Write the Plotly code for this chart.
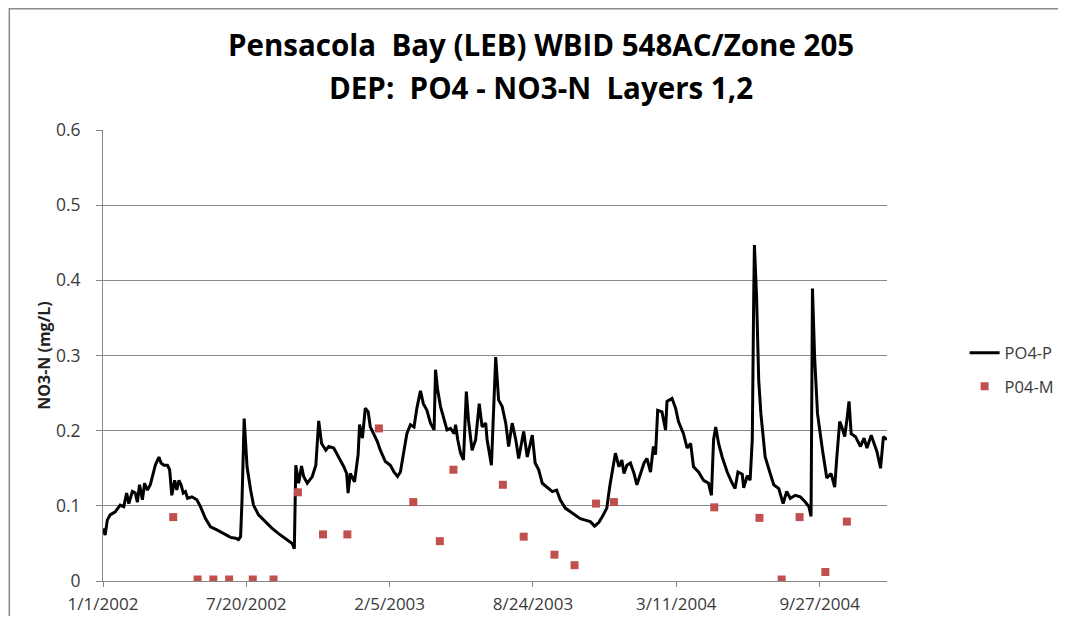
import pandas as pd
import plotly.graph_objects as go

START = pd.Timestamp("2002-01-01")

# Predicted PO4 (line): days since 1/1/2002 and mg/L values
pred_days = [0, 3, 6, 10, 17, 24, 29, 33, 36, 41, 45, 48, 51, 55, 58, 62, 66, 70, 73, 78,
             81, 85, 90, 93, 96, 100, 103, 106, 109, 112, 115, 118, 124, 131, 136, 143, 150, 159, 169, 178,
             185, 189, 192, 194, 197, 201, 206, 210, 217, 224, 236, 245, 257, 264, 267, 269, 273, 277, 280, 285,
             292, 297, 301, 305, 311, 315, 322, 329, 336, 340, 342, 345, 351, 356, 358, 362, 366, 370, 373, 383,
             387, 394, 401, 406, 411, 415, 420, 424, 429, 434, 438, 443, 447, 452, 457, 462, 464, 467, 471, 476,
             480, 485, 490, 492, 495, 499, 503, 507, 510, 515, 520, 525, 529, 534, 536, 542, 548, 552, 557, 562,
             566, 571, 576, 580, 587, 592, 599, 603, 608, 613, 620, 627, 633, 638, 645, 652, 659, 666, 673, 680,
             686, 692, 697, 703, 707, 710, 715, 720, 724, 727, 731, 736, 741, 745, 750, 755, 759, 764, 768, 771,
             774, 780, 785, 787, 794, 799, 803, 810, 815, 820, 824, 831, 838, 845, 849, 852, 855, 859, 864, 871,
             878, 882, 886, 892, 894, 899, 903, 906, 908, 909, 912, 915, 918, 924, 931, 936, 943, 949, 954, 959,
             966, 973, 980, 985, 988, 990, 993, 997, 1004, 1010, 1016, 1021, 1024, 1028, 1031, 1035, 1038, 1041, 1044, 1050,
             1057, 1062, 1066, 1072, 1076, 1080, 1085, 1089, 1094]
pred_vals = [0.070, 0.061, 0.081, 0.088, 0.092, 0.101, 0.099, 0.117, 0.103, 0.119, 0.117, 0.105, 0.128, 0.108, 0.130, 0.121, 0.128, 0.143, 0.154, 0.165,
             0.157, 0.154, 0.154, 0.148, 0.114, 0.134, 0.121, 0.134, 0.128, 0.117, 0.119, 0.110, 0.112, 0.108, 0.099, 0.083, 0.072, 0.068, 0.063, 0.058,
             0.057, 0.055, 0.059, 0.108, 0.216, 0.152, 0.121, 0.101, 0.088, 0.081, 0.070, 0.063, 0.055, 0.050, 0.043, 0.154, 0.130, 0.153, 0.139, 0.130,
             0.139, 0.154, 0.213, 0.183, 0.174, 0.179, 0.177, 0.165, 0.152, 0.143, 0.117, 0.143, 0.132, 0.168, 0.208, 0.190, 0.230, 0.225, 0.205, 0.185,
             0.174, 0.159, 0.154, 0.145, 0.139, 0.145, 0.174, 0.196, 0.208, 0.205, 0.230, 0.253, 0.236, 0.227, 0.210, 0.201, 0.281, 0.254, 0.232, 0.214,
             0.201, 0.203, 0.196, 0.208, 0.188, 0.170, 0.161, 0.252, 0.214, 0.174, 0.188, 0.236, 0.205, 0.210, 0.188, 0.154, 0.298, 0.241, 0.232, 0.210,
             0.179, 0.210, 0.188, 0.163, 0.199, 0.165, 0.194, 0.157, 0.148, 0.130, 0.125, 0.119, 0.121, 0.108, 0.097, 0.092, 0.088, 0.083, 0.081, 0.079,
             0.073, 0.078, 0.086, 0.097, 0.125, 0.143, 0.170, 0.152, 0.161, 0.143, 0.154, 0.157, 0.143, 0.128, 0.143, 0.157, 0.163, 0.145, 0.179, 0.168,
             0.227, 0.225, 0.201, 0.239, 0.243, 0.230, 0.212, 0.196, 0.177, 0.183, 0.152, 0.145, 0.134, 0.130, 0.114, 0.188, 0.205, 0.183, 0.165, 0.145,
             0.130, 0.123, 0.145, 0.142, 0.124, 0.140, 0.134, 0.188, 0.378, 0.447, 0.378, 0.267, 0.223, 0.165, 0.143, 0.128, 0.123, 0.103, 0.119, 0.110,
             0.114, 0.112, 0.105, 0.099, 0.086, 0.389, 0.298, 0.223, 0.174, 0.137, 0.143, 0.125, 0.165, 0.212, 0.205, 0.192, 0.214, 0.239, 0.196, 0.192,
             0.179, 0.190, 0.177, 0.194, 0.183, 0.172, 0.150, 0.192, 0.188]

# Measured PO4 (markers)
meas_days = [98, 132, 154, 176, 209, 238, 272, 307, 341, 385, 433, 470, 489,
             558, 587, 630, 658, 688, 713, 853, 916, 947, 972, 1008, 1038]
meas_vals = [0.085, 0.002, 0.002, 0.002, 0.002, 0.002, 0.118, 0.062, 0.062, 0.203, 0.105, 0.053, 0.148,
             0.128, 0.059, 0.035, 0.021, 0.103, 0.105, 0.098, 0.084, 0.002, 0.085, 0.012, 0.079]

tick_dates = ["2002-01-01", "2002-07-20", "2003-02-05", "2003-08-24", "2004-03-11", "2004-09-27"]
tick_labels = ["1/1/2002", "7/20/2002", "2/5/2003", "8/24/2003", "3/11/2004", "9/27/2004"]

title_line1 = "Pensacola\u00a0 Bay (LEB) WBID 548AC/Zone 205"
title_line2 = "DEP:\u00a0 PO4 - NO3-N\u00a0 Layers 1,2"

pred_x = START + pd.to_timedelta(pred_days, unit="D")
meas_x = START + pd.to_timedelta(meas_days, unit="D")

FONT = "Open Sans"
TXT = "#3a3a3a"
GRID = "#878787"

fig = go.Figure()
fig.add_trace(go.Scatter(x=pred_x, y=pred_vals, mode="lines", name="PO4-P",
                         line=dict(color="black", width=3), legendgroup="a"))
fig.add_trace(go.Scatter(x=meas_x, y=meas_vals, mode="markers", name="P04-M",
                         marker=dict(symbol="square", size=8, color="#C0504D"), legendgroup="b"))

fig.update_layout(
    width=1050, height=608,
    margin=dict(l=94.5, r=171, t=122, b=35, autoexpand=False),
    paper_bgcolor="white", plot_bgcolor="white",
    font=dict(family=FONT, color=TXT),
    showlegend=True,
    legend=dict(x=1.099, xanchor="left", y=0.469, yanchor="middle",
                font=dict(family=FONT, size=16.5, color=TXT),
                traceorder="grouped", tracegroupgap=9, bgcolor="rgba(0,0,0,0)"),
    xaxis=dict(type="date", range=["2002-01-01", "2004-12-30"],
               tickvals=tick_dates, ticktext=tick_labels, automargin=False,
               showgrid=False, showline=True, linecolor=GRID, linewidth=1,
               ticks="outside", ticklen=5, tickcolor=GRID,
               tickfont=dict(family=FONT, size=17, color=TXT), ticklabelstandoff=3,
               zeroline=False),
    yaxis=dict(range=[0, 0.6], dtick=0.1, tick0=0, automargin=False,
               showgrid=True, gridcolor=GRID, gridwidth=1,
               showline=True, linecolor=GRID, linewidth=1,
               ticks="outside", ticklen=6, tickcolor=GRID,
               tickfont=dict(family=FONT, size=17.5, color=TXT), ticklabelstandoff=12,
               zeroline=False,
               title=dict(text="<b>NO3-N (mg/L)</b>", font=dict(family=FONT, size=16, color="#222222"), standoff=1)),
    annotations=[
        dict(text="<b>" + title_line1 + "</b>", xref="paper", yref="paper", x=0.559, y=1.1885,
             xanchor="center", yanchor="middle", showarrow=False,
             font=dict(family=FONT, size=29.5, color="black")),
        dict(text="<b>" + title_line2 + "</b>", xref="paper", yref="paper", x=0.559, y=1.0936,
             xanchor="center", yanchor="middle", showarrow=False,
             font=dict(family=FONT, size=29.5, color="black")),
    ],
    shapes=[dict(type="rect", xref="paper", yref="paper", x0=-0.1195, y0=-0.3, x1=1.5, y1=1.2688,
                 line=dict(color="#8a8a8a", width=1.5), fillcolor="rgba(0,0,0,0)", layer="below")],
)

fig.write_html("out.html")
